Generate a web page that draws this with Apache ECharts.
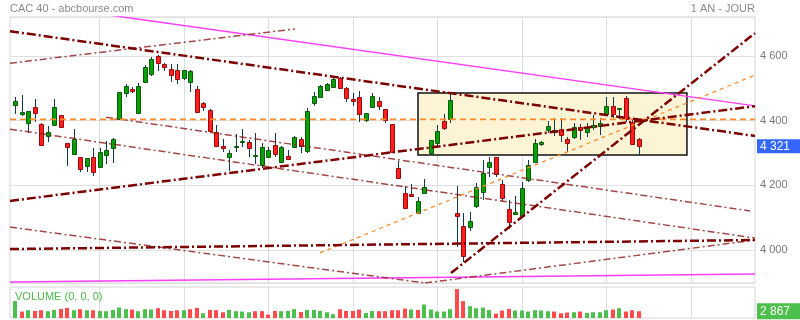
<!DOCTYPE html>
<html><head><meta charset="utf-8">
<script src="https://cdn.jsdelivr.net/npm/echarts@6/dist/echarts.min.js"></script>
<style>html,body{margin:0;padding:0;background:#fff}#c{width:800px;height:320px}</style>
</head><body><div id="c"></div>
<script>
// ---- data ----
const opens = [4449,4421,4394,4441,4389,4352,4386,4417,4330,4298, 4287,4261,4287,4258,4293,4315,4404,4485,4499,4423, 4519,4544,4601,4577,4560,4556,4533,4519,4497,4456, 4433,4364,4322,4289,4318,4337,4333,4294,4263,4289, 4324,4273,4291,4320,4342,4307,4456,4474,4495,4505, 4531,4500,4466,4474,4402,4441,4460,4435,4389,4253, 4175,4173,4115,4178,4299,4332,4399,4404,4115,4074, 4072,4137,4181,4258,4287,4203,4126,4113,4106,4217, 4271,4327,4371,4366,4373,4342,4350,4380,4364,4380, 4384,4421,4445,4436,4469,4397,4345];
const closes = [4460,4426,4429,4423,4325,4364,4441,4381,4320,4342, 4250,4284,4242,4302,4311,4345,4488,4509,4493,4506, 4565,4590,4579,4567,4542,4530,4556,4555,4426,4441, 4369,4322,4316,4299,4322,4338,4315,4294,4318,4311, 4296,4318,4281,4350,4323,4430,4478,4509,4513,4529, 4502,4471,4462,4420,4423,4476,4446,4402,4304,4224, 4129,4168,4152,4194,4340,4368,4378,4464,4106,3983, 4090,4194,4239,4272,4234,4162,4086,4118,4191,4263, 4330,4335,4384,4371,4356,4330,4380,4371,4380,4387, 4394,4445,4421,4438,4404,4327,4321];
const lows = [4420,4414,4361,4396,4322,4335,4384,4378,4260,4296, 4242,4242,4230,4256,4265,4270,4403,4474,4487,4422, 4518,4538,4555,4555,4520,4513,4526,4489,4423,4431, 4366,4318,4304,4245,4304,4320,4289,4266,4255,4287, 4289,4268,4278,4318,4301,4301,4446,4473,4493,4504, 4501,4459,4446,4397,4396,4440,4433,4394,4301,4223, 4128,4163,4114,4172,4294,4315,4371,4394,4010,3964, 4059,4129,4155,4227,4227,4149,4064,4112,4105,4210, 4270,4322,4361,4353,4335,4304,4342,4340,4349,4371, 4356,4420,4407,4404,4397,4325,4294];
const highs = [4472,4479,4431,4466,4394,4384,4466,4418,4331,4376, 4288,4285,4315,4315,4336,4346,4489,4513,4505,4516, 4574,4596,4602,4578,4577,4577,4557,4556,4507,4457, 4435,4387,4345,4311,4359,4374,4340,4361,4330,4318, 4361,4322,4311,4353,4349,4440,4488,4511,4517,4531, 4536,4505,4485,4492,4424,4485,4472,4436,4390,4276, 4198,4204,4165,4219,4341,4387,4421,4485,4198,4115, 4118,4206,4278,4289,4289,4217,4155,4167,4209,4278, 4342,4336,4399,4409,4407,4350,4392,4389,4394,4418, 4407,4472,4472,4439,4476,4404,4346];
const volumes = [7148,2739,3296,2996,3296,2868,3424,3852,4280,3296, 3724,3296,3296,2996,2868,3424,4451,3724,3595,2868, 3724,3595,4152,3296,2996,3296,3296,3724,4280,2012, 3424,3296,2440,3424,2868,2739,2440,2868,2868,1455, 2996,2868,2996,3724,2568,3424,3424,2996,2440,1584, 3724,2996,2996,3595,2140,2996,2868,2868,3296,3296, 4023,3595,3424,5735,3595,2739,2739,3724,12284,7148, 5008,4152,4451,3424,1883,3167,3852,3167,3167,2739, 3296,3167,2868,2739,2012,2311,2440,2739,2140,2440, 2440,3296,3595,4152,2739,3296,2867];
const volumeUp = [1,0,1,0,0,1,1,0,0,1, 0,1,0,1,1,1,1,1,0,1, 1,1,0,0,0,0,1,0,0,1, 0,0,0,1,1,1,1,0,0,0, 0,1,1,1,0,1,1,1,1,1, 0,0,0,0,1,1,0,0,0,0, 0,1,0,1,1,1,1,1,0,0, 1,1,1,1,0,0,0,1,1,1, 1,1,1,0,0,0,1,0,1,1, 1,1,0,1,0,0,0];
const lastClose = 4321;
const lastVolume = 2867;
const monthLines = [13, 26, 39, 52, 65, 78, 91, 104];
// trendlines: [[index, price], [index, price]]
const magentaLines = [[[13.08, 4731], [113.85, 4446]], [[-0.77, 3901], [113.85, 3926]]];
const thickDashDot = [[[-0.77, 4677], [113.85, 4353]], [[-0.77, 4152], [113.85, 4445]], [[-0.77, 4003], [113.85, 4031]], [[67.08, 3929], [113.85, 4671]]];
const thinDashDot = [[[-0.77, 4578], [43.08, 4684]], [[-0.77, 4374], [113.85, 4037]], [[14.0, 4411], [113.08, 4121]], [[-0.77, 4071], [63.08, 3898]], [[63.08, 3898], [113.85, 4031]]];
const orangeLevel = [[[-0.77, 4404], [113.85, 4404]]];
const orangeRising = [[[46.92, 3991], [113.85, 4541]]];
const zoneBox = [[62.0, 4486], [103.38, 4294]];

// ---- chart ----
const X_MIN = -0.77, X_MAX = 113.85;
const FONT = '"Liberation Sans", Arial, sans-serif';
function fmt(v) { return String(Math.round(v)).replace(/\B(?=(\d{3})+(?!\d))/g, ' '); }

const candleData = opens.map((o, i) => [i, o, closes[i], lows[i], highs[i]]);
const volData = volumes.map((v, i) => [i, v, volumeUp[i]]);

function candleItem(params, api) {
  const x = api.value(0), o = api.value(1), c = api.value(2), l = api.value(3), h = api.value(4);
  const pO = api.coord([x, o]), pC = api.coord([x, c]), pL = api.coord([x, l]), pH = api.coord([x, h]);
  const up = c >= o;
  const cx = Math.round(pO[0]) + 0.5;
  const top = Math.round(Math.min(pO[1], pC[1])) + 0.5;
  let bot = Math.round(Math.max(pO[1], pC[1])) + 0.5;
  if (bot - top < 1) bot = top + 1;
  return { type: 'group', children: [
    { type: 'line', shape: { x1: cx, y1: Math.round(pH[1]), x2: cx, y2: Math.round(pL[1]) }, style: { stroke: '#0f3a4c', lineWidth: 1 } },
    { type: 'rect', shape: { x: cx - 2, y: top, width: 4, height: bot - top }, style: { fill: up ? '#07a007' : '#ff1f1f', stroke: up ? '#0a5a0a' : '#9a0a0a', lineWidth: 1 } }
  ]};
}
function volItem(params, api) {
  const x = api.value(0), v = api.value(1), up = api.value(2);
  const p = api.coord([x, v]), b = api.coord([x, 0]);
  const cx = Math.round(p[0]);
  return { type: 'rect', shape: { x: cx - 2, y: p[1], width: 4, height: b[1] - p[1] }, style: { fill: up ? '#4cbf4c' : '#ff4b4b' } };
}

function lineSeries(pts, style, z) {
  return { type: 'line', data: pts, symbol: 'none', silent: true, animation: false, xAxisIndex: 0, yAxisIndex: 0, z: z, lineStyle: style };
}

const series = [];
// candles with zone box + last price label
series.push({
  type: 'custom', renderItem: candleItem, data: candleData, xAxisIndex: 0, yAxisIndex: 0, z: 2,
  encode: { x: 0, y: [1, 2, 3, 4] }, animation: false, silent: true,
  markArea: { silent: true, z: 1, itemStyle: { color: '#fdf4d6', opacity: 1, borderColor: '#111', borderWidth: 1.5 },
    data: [[{ coord: zoneBox[0] }, { coord: zoneBox[1] }]] },
  markLine: { silent: true, z: 10, symbol: ['none', 'none'], animation: false,
    lineStyle: { color: 'transparent', width: 0 },
    data: [{ yAxis: lastClose, label: { show: true, position: 'end', distance: 2, formatter: fmt(lastClose),
      backgroundColor: '#3366ff', color: '#fff', fontSize: 12, fontFamily: FONT, lineHeight: 12, padding: [1, 20, 1, 3] } }] }
});
// volume
series.push({
  type: 'custom', renderItem: volItem, data: volData, xAxisIndex: 1, yAxisIndex: 1, z: 2,
  encode: { x: 0, y: 1 }, animation: false, silent: true,
  markLine: { silent: true, z: 0, symbol: ['none', 'none'], animation: false,
    data: monthLines.map(v => ({ xAxis: v, lineStyle: { color: '#dedede', width: 1, type: 'solid' }, label: { show: false } }))
      .concat([{ yAxis: lastVolume, lineStyle: { color: 'transparent', width: 0 }, label: { show: true, position: 'end', distance: 2,
        formatter: fmt(lastVolume), backgroundColor: '#4cbf4c', color: '#fff', fontSize: 12, fontFamily: FONT, lineHeight: 12, padding: [2, 20, 2, 3] } }]) }
});
// trendlines
const thickStyle = { color: '#7d0000', width: 2.5, type: [9, 3, 2, 3] };
const thinStyle = { color: 'rgba(140,25,25,0.8)', width: 1.5, type: [7, 3, 2, 3] };
magentaLines.forEach(l => series.push(lineSeries(l, { color: '#ff3cff', width: 1.5, type: 'solid' }, 3)));
thinDashDot.forEach(l => series.push(lineSeries(l, thinStyle, 3)));
thickDashDot.forEach(l => series.push(lineSeries(l, thickStyle, 4)));
orangeRising.forEach(l => series.push(lineSeries(l, { color: '#ff8a2a', width: 1.3, type: [4, 4] }, 3)));
orangeLevel.forEach(l => {
  const s = lineSeries(l, { color: '#ff8a2a', width: 1.8, type: [6, 4] }, 3);
  s.markLine = { silent: true, z: 0, symbol: ['none', 'none'], animation: false, label: { show: false },
    lineStyle: { color: '#dedede', width: 1, type: 'solid' }, data: monthLines.map(v => ({ xAxis: v })) };
  series.push(s);
});

const chart = echarts.init(document.getElementById('c'), null, { renderer: 'canvas' });
chart.setOption({
  animation: false,
  backgroundColor: '#fff',
  grid: [
    { left: 10, top: 17, width: 745, height: 266, show: true, borderColor: '#d4d4d4', borderWidth: 1, backgroundColor: '#fff' },
    { left: 10, top: 287, width: 745, height: 31, show: true, borderColor: '#d4d4d4', borderWidth: 1, backgroundColor: '#fff' }
  ],
  xAxis: [
    { type: 'value', gridIndex: 0, min: X_MIN, max: X_MAX, axisLine: { show: false }, axisTick: { show: false }, axisLabel: { show: false }, splitLine: { show: false } },
    { type: 'value', gridIndex: 1, min: X_MIN, max: X_MAX, axisLine: { show: false }, axisTick: { show: false }, axisLabel: { show: false }, splitLine: { show: false } }
  ],
  yAxis: [
    { type: 'value', gridIndex: 0, position: 'right', min: 3898, max: 4721, splitNumber: 5,
      axisLine: { show: false }, axisTick: { show: false },
      axisLabel: { show: true, margin: 5, color: '#777', fontSize: 11, fontFamily: FONT, showMinLabel: false, showMaxLabel: false, formatter: v => fmt(v) },
      splitLine: { show: true, lineStyle: { color: '#e0e0e0', width: 1 } } },
    { type: 'value', gridIndex: 1, position: 'right', min: 0, max: 13140, show: false, splitLine: { show: false } }
  ],
  graphic: [
    { type: 'text', left: 10, top: 3, silent: true, style: { text: 'CAC 40 - abcbourse.com', fill: '#8a8a8a', font: '11px ' + FONT } },
    { type: 'text', right: 45, top: 3, silent: true, style: { text: '1 AN - JOUR', fill: '#8a8a8a', font: '11px ' + FONT } },
    { type: 'text', left: 15, top: 291, z: 20, silent: true, style: { text: 'VOLUME (0, 0, 0)', fill: '#4cb84c', font: '11px ' + FONT } }
  ],
  series: series
});
</script>
</body></html>
